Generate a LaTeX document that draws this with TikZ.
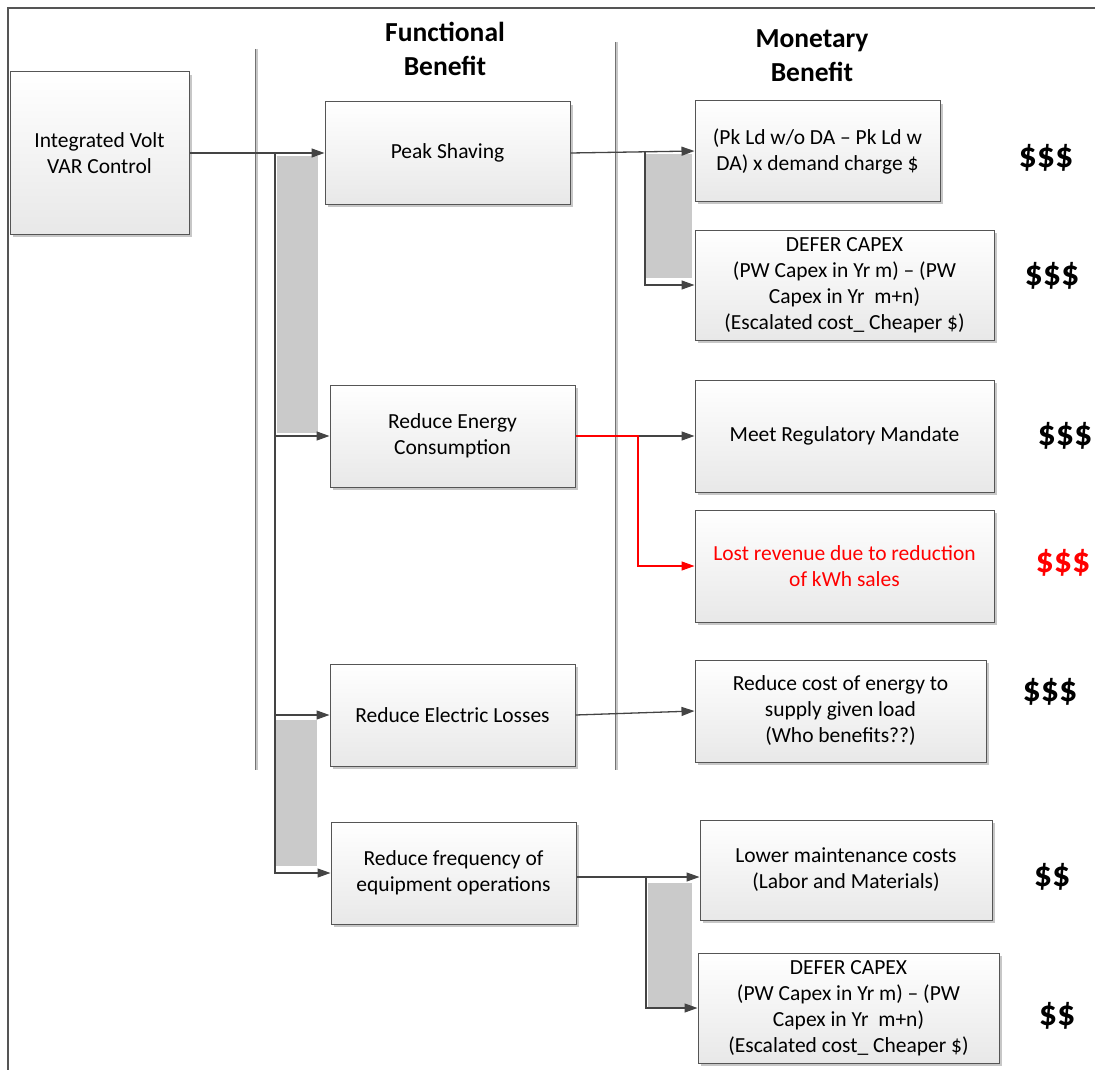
\documentclass[tikz,border=0pt]{standalone}
\usepackage{fontspec}
\setmainfont{Carlito}
\usetikzlibrary{arrows.meta,shadows,calc}
\definecolor{edge}{HTML}{555555}
\definecolor{wire}{HTML}{444444}
\definecolor{shade}{HTML}{CACACA}
\definecolor{alarm}{HTML}{FF0000}
\newcommand{\boxfont}{\fontsize{21.5}{26}\selectfont}
\newcommand{\headfont}{\fontsize{27.5}{34}\selectfont\bfseries}
\newcommand{\cashfont}{\fontsize{36}{40}\selectfont\bfseries}
\tikzset{
  panel/.style={draw=edge, line width=1pt, top color=white, bottom color=black!9,
    inner sep=0pt, align=center, font=\boxfont,
    drop shadow={shadow xshift=3pt, shadow yshift=-3pt, fill=black!22, opacity=1}},
  wirearrow/.style={draw=wire, line width=1.3pt, -{Triangle[length=13pt,width=9pt]}},
  redarrow/.style={draw=alarm, line width=1.3pt, -{Triangle[length=13pt,width=9pt]}},
  ghost/.style={fill=shade, draw=none},
  divider/.style={draw=black!55, line width=1pt},
  dividershade/.style={draw=black!22, line width=2pt},
  frameline/.style={draw=edge, line width=1.2pt},
  head/.style={font=\headfont, align=center, inner sep=0pt},
  cash/.style={font=\cashfont, inner sep=0pt}
}
\begin{document}
\begin{tikzpicture}[x=1pt,y=-1pt]
\useasboundingbox (0,0) rectangle (1095,1070);

% outer frame edges
\draw[frameline] (8,1070) -- (8,8) -- (1095,8);

% column dividers
\draw[dividershade] (257,49) -- (257,770);
\draw[divider] (255,49) -- (255,770);
\draw[dividershade] (617,42) -- (617,770);
\draw[divider] (615,42) -- (615,770);

% column headings
\node[head] (hfun) at (445,49) {Functional\\Benefit};
\node[head] (hmon) at (812,56) {Monetary\\Benefit};

% connector shadows
\fill[ghost] (277,156) rectangle (318,433);
\fill[ghost] (276,720) rectangle (317,866);
\fill[ghost] (645,154) rectangle (692,278);
\fill[ghost] (648,883) rectangle (692,1008);

% source
\node[panel, minimum width=179pt, minimum height=162pt] (ivvc) at (99.5,153) {Integrated Volt\\VAR Control};

% functional benefits
\node[panel, minimum width=245pt, minimum height=102pt] (peak) at (447.5,153) {Peak Shaving};
\node[panel, minimum width=245pt, minimum height=102pt] (rec) at (452.5,436) {Reduce Energy\\Consumption};
\node[panel, minimum width=245pt, minimum height=102pt] (rel) at (452.5,715) {Reduce Electric Losses};
\node[panel, minimum width=245pt, minimum height=102pt] (rfe) at (453.5,873) {Reduce frequency of\\equipment operations};

% monetary benefits
\node[panel, minimum width=245pt, minimum height=100pt] (pkld) at (817.5,151) {(Pk Ld w/o DA -- Pk Ld w\\DA) x demand charge \$};
\node[panel, minimum width=299pt, minimum height=110pt] (dc1) at (844.5,285) {DEFER CAPEX\\(PW Capex in Yr m) -- (PW\\Capex in Yr\ \ m+n)\\(Escalated cost\_ Cheaper \$)};
\node[panel, minimum width=299pt, minimum height=112pt] (mrm) at (844.5,436) {Meet Regulatory Mandate};
\node[panel, minimum width=299pt, minimum height=112pt, text=alarm] (lost) at (844.5,566) {Lost revenue due to reduction\\of kWh sales};
\node[panel, minimum width=291pt, minimum height=102pt] (rce) at (840.5,711) {Reduce cost of energy to\\supply given load\\(Who benefits??)};
\node[panel, minimum width=292pt, minimum height=100pt] (lmc) at (846,870) {Lower maintenance costs\\(Labor and Materials)};
\node[panel, minimum width=301pt, minimum height=110pt] (dc2) at (848.5,1008) {DEFER CAPEX\\(PW Capex in Yr m) -- (PW\\Capex in Yr\ \ m+n)\\(Escalated cost\_ Cheaper \$)};

% value ratings
\node[cash] (v1) at (1046,158) {\$\$\$};
\node[cash] (v2) at (1052,276) {\$\$\$};
\node[cash] (v3) at (1065,436) {\$\$\$};
\node[cash, text=alarm] (v4) at (1063,563) {\$\$\$};
\node[cash] (v5) at (1050,692) {\$\$\$};
\node[cash] (v6) at (1052,877) {\$\$};
\node[cash] (v7) at (1057,1016) {\$\$};

% trunk from the source to the functional benefits
\coordinate (trunk) at (275,153);
\draw[wirearrow] (ivvc.east) -- (peak.west);
\draw[wirearrow] (trunk) |- (rec.west);
\draw[wirearrow] (trunk) |- (rel.west);
\draw[wirearrow] (trunk |- rel.west) |- (rfe.west);

% peak shaving branches
\coordinate (pkfork) at (645,151);
\draw[wirearrow] (peak.east) -- (pkld.west);
\draw[wirearrow] (pkfork) |- (dc1.west);

% energy consumption branches
\coordinate (ecfork) at (638,436);
\draw[wirearrow] (ecfork) -- (mrm.west);
\draw[redarrow] (rec.east) -- (ecfork) |- (lost.west);

% losses
\draw[wirearrow] (rel.east) -- (rce.west);

% equipment operation branches
\coordinate (eqfork) at (646,877);
\draw[wirearrow] ($(rfe.east)+(0,4)$) -- ($(lmc.west)+(0,7)$);
\draw[wirearrow] (eqfork) |- (dc2.west);
\end{tikzpicture}
\end{document}
